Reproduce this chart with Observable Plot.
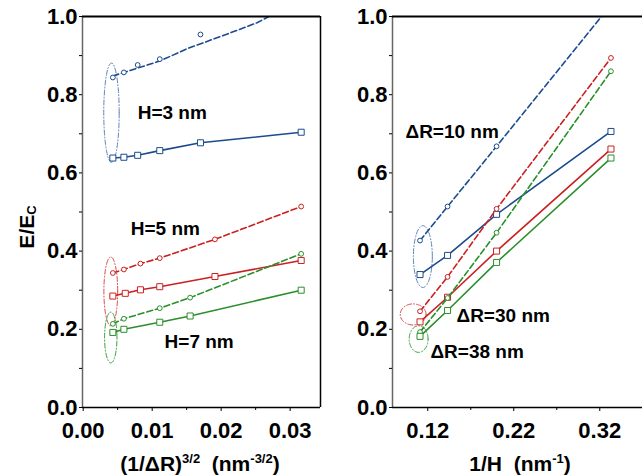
<!DOCTYPE html>
<html><head><meta charset="utf-8">
<script src="https://cdn.jsdelivr.net/npm/d3@7"></script>
<script src="https://cdn.jsdelivr.net/npm/@observablehq/plot@0.6"></script>
<style>
body{margin:0;background:#fff;font-family:"Liberation Sans",Arial,sans-serif;}
#wrap{position:relative;width:642px;height:475px;overflow:hidden;background:#fff;}
.panel{position:absolute;top:0;}
.panel svg{max-width:none !important;}
.lab{position:absolute;font-weight:bold;font-size:21px;color:#000;white-space:nowrap;line-height:1;
  font-family:"Liberation Sans Narrow","Arial Narrow","Liberation Sans",Arial,sans-serif;}
.lab sup{font-size:13px;vertical-align:0.6em;}
.lab sub{font-size:13px;vertical-align:-0.1em;}
</style></head><body><div id="wrap"></div>
<script>
// ---------- data ----------
const BLUE = "#1b4b8e", RED = "#cc2020", GREEN = "#2a8f2a";
const BLUE_L = "#5f86bd", RED_L = "#d94c4c", GREEN_L = "#3a9e3a";

// Left panel: x = (1/ΔR)^(3/2)
const h3DashX = [0.0043, 0.0059, 0.0079, 0.0111, 0.0170, 0.0316];
const h3DashY = [0.844, 0.857, 0.876, 0.891, 0.954, 1.03];
// dashed trend line drawn for H=3 (it passes below the 0.017 point)
const h3TrendX = [0.0043, 0.0111, 0.0151, 0.0204, 0.0252, 0.0280];
const h3TrendY = [0.848, 0.886, 0.918, 0.952, 0.984, 1.01];
const h3SolidX = [0.0043, 0.0059, 0.0079, 0.0111, 0.0170, 0.0316];
const h3SolidY = [0.638, 0.640, 0.645, 0.657, 0.677, 0.704];
const h5DashX = [0.0043, 0.0059, 0.0083, 0.0111, 0.0191, 0.0316];
const h5DashY = [0.344, 0.353, 0.368, 0.382, 0.430, 0.514];
const h5SolidX = [0.0043, 0.0061, 0.0083, 0.0111, 0.0191, 0.0316];
const h5SolidY = [0.285, 0.292, 0.301, 0.309, 0.335, 0.376];
const h7DashX = [0.0043, 0.0059, 0.0111, 0.0155, 0.0316];
const h7DashY = [0.214, 0.227, 0.254, 0.281, 0.393];
const h7SolidX = [0.0043, 0.0059, 0.0111, 0.0155, 0.0316];
const h7SolidY = [0.192, 0.200, 0.218, 0.234, 0.300];

// Right panel: x = 1/H
const invH = [0.111, 0.143, 0.2, 0.333];
const r10DashY = [0.427, 0.514, 0.668, 1.03];
const r10SolidY = [0.340, 0.389, 0.494, 0.706];
const r30DashY = [0.246, 0.334, 0.508, 0.894];
const r30SolidY = [0.219, 0.282, 0.400, 0.661];
const r38DashY = [0.193, 0.280, 0.447, 0.860];
const r38SolidY = [0.182, 0.248, 0.371, 0.638];

// ticks
const yTicks = [0, 0.2, 0.4, 0.6, 0.8, 1.0];
const yMinor = [0.1, 0.3, 0.5, 0.7, 0.9];
const leftXTicks = [0, 0.01, 0.02, 0.03];
const leftXMinor = [0.005, 0.015, 0.025];
const rightXTicks = [0.12, 0.22, 0.32];
const rightXMinor = [0.17, 0.27];

// annotations
const leftLabels = [
  {x: 0.0079, y: 0.754, text: "H=3 nm"},
  {x: 0.0069, y: 0.458, text: "H=5 nm"},
  {x: 0.0118, y: 0.169, text: "H=7 nm"}
];
const rightLabels = [
  {x: 0.0941, y: 0.706, text: "ΔR=10 nm"},
  {x: 0.1534, y: 0.233, text: "ΔR=30 nm"},
  {x: 0.1231, y: 0.141, text: "ΔR=38 nm"}
];
const leftEllipses = [
  {cx: 0.0041, cy: 0.754, rx: 0.00112, ry: 0.127, color: BLUE_L},
  {cx: 0.0040, cy: 0.297, rx: 0.00100, ry: 0.088, color: RED_L},
  {cx: 0.0040, cy: 0.179, rx: 0.00090, ry: 0.065, color: GREEN_L}
];
const rightEllipses = [
  {cx: 0.1143, cy: 0.386, rx: 0.0110, ry: 0.079, color: BLUE_L},
  {cx: 0.1030, cy: 0.238, rx: 0.0150, ry: 0.027, color: RED_L},
  {cx: 0.1094, cy: 0.175, rx: 0.0110, ry: 0.034, color: GREEN_L}
];

// ---------- build ----------
function pts(xs, ys){ return xs.map((x, i) => ({x, y: ys[i]})); }
const leftSeries = [
  {d: pts(h3DashX, h3DashY), line: pts(h3TrendX, h3TrendY), c: BLUE, dash: true},
  {d: pts(h3SolidX, h3SolidY), c: BLUE, dash: false},
  {d: pts(h5DashX, h5DashY), c: RED, dash: true},
  {d: pts(h5SolidX, h5SolidY), c: RED, dash: false},
  {d: pts(h7DashX, h7DashY), c: GREEN, dash: true},
  {d: pts(h7SolidX, h7SolidY), c: GREEN, dash: false}
];
const rightSeries = [
  {d: pts(invH, r10DashY), c: BLUE, dash: true},
  {d: pts(invH, r10SolidY), c: BLUE, dash: false},
  {d: pts(invH, r30DashY), c: RED, dash: true},
  {d: pts(invH, r30SolidY), c: RED, dash: false},
  {d: pts(invH, r38DashY), c: GREEN, dash: true},
  {d: pts(invH, r38SolidY), c: GREEN, dash: false}
];
const angles = d3.range(0, 361, 5);
function ellipseMarks(E){
  return E.map(e => Plot.line(angles.map(a => ({
      x: e.cx + e.rx * Math.cos(a * Math.PI / 180),
      y: e.cy + e.ry * Math.sin(a * Math.PI / 180)})),
    {x: "x", y: "y", stroke: e.color, strokeWidth: 1, strokeDasharray: "5,2,1,2"}));
}
function seriesMarks(S){
  return S.flatMap(s => [
    Plot.line(s.line || s.d, {x: "x", y: "y", stroke: s.c, strokeWidth: 1.6,
      strokeDasharray: s.dash ? "6,3" : null, clip: true}),
    Plot.dot(s.d, {x: "x", y: "y", stroke: s.c, fill: "white", strokeWidth: 1,
      symbol: s.dash ? "circle" : "square", r: s.dash ? 2.4 : 3.4, clip: true})
  ]);
}
const fmt1 = d3.format(".1f"), fmt2 = d3.format(".2f");
const NARROW = "'Liberation Sans Narrow', 'Arial Narrow', 'Liberation Sans', Arial, sans-serif";
const WIDE = "Liberation Sans, Arial, sans-serif";
const style = {background: "transparent", fontFamily: NARROW,
  fontSize: "22px", fontWeight: "bold", overflow: "visible", maxWidth: "none"};

function frameMarks(xmin, xmax, right){
  const m = [
    Plot.ruleX([xmin], {stroke: "#666", strokeWidth: 1.5}),
    Plot.ruleY([0], {stroke: "#000", strokeWidth: 1.5}),
    Plot.ruleY([1], {stroke: "#000", strokeWidth: 2})
  ];
  if (right) m.push(Plot.ruleX([xmax], {stroke: "#000", strokeWidth: 1.5}));
  return m;
}
const textOpts = {x: "x", y: "y", text: "text", textAnchor: "start", fontSize: 19,
  fontWeight: "bold", fontFamily: WIDE, fill: "#000"};

const LXD = [-0.0001, 0.0344];
const left = Plot.plot({
  width: 330, height: 475, marginLeft: 82, marginRight: 10, marginTop: 16, marginBottom: 68,
  style,
  x: {domain: LXD},
  y: {domain: [0, 1]},
  marks: [
    ...ellipseMarks(leftEllipses),
    ...seriesMarks(leftSeries),
    Plot.text(leftLabels, textOpts),
    ...frameMarks(LXD[0], LXD[1], true),
    Plot.axisX(leftXTicks, {tickFormat: fmt2, tickSize: 4, tickPadding: 11, label: null}),
    Plot.axisX(leftXMinor, {tickFormat: () => "", tickSize: 3, label: null}),
    Plot.axisY(yTicks, {tickFormat: fmt1, tickSize: 3, tickPadding: 2, label: null}),
    Plot.axisY(yMinor, {tickFormat: () => "", tickSize: 3, label: null})
  ]
});

const RXD = [0.0790, 0.3906];
const right = Plot.plot({
  width: 370, height: 475, marginLeft: 62, marginRight: 40, marginTop: 16, marginBottom: 68,
  style,
  x: {domain: RXD},
  y: {domain: [0, 1]},
  marks: [
    ...ellipseMarks(rightEllipses),
    ...seriesMarks(rightSeries),
    Plot.text(rightLabels, textOpts),
    ...frameMarks(RXD[0], RXD[1], true),
    Plot.axisX(rightXTicks, {tickFormat: fmt2, tickSize: 4, tickPadding: 11, label: null}),
    Plot.axisX(rightXMinor, {tickFormat: () => "", tickSize: 3, label: null}),
    Plot.axisY(yTicks, {tickFormat: fmt1, tickSize: 3, tickPadding: 2, label: null}),
    Plot.axisY(yMinor, {tickFormat: () => "", tickSize: 3, label: null})
  ]
});

const wrap = document.getElementById("wrap");
const pl = document.createElement("div"); pl.className = "panel";
pl.style.left = "0px"; pl.style.width = "330px"; pl.appendChild(left);
const pr = document.createElement("div"); pr.className = "panel";
pr.style.left = "330px"; pr.style.width = "370px"; pr.appendChild(right);
wrap.appendChild(pl); wrap.appendChild(pr);

function addLabel(html, x, y, rot){
  const d = document.createElement("div");
  d.className = "lab"; d.innerHTML = html;
  d.style.left = x + "px"; d.style.top = y + "px";
  d.style.transform = "translate(-50%,-50%)" + (rot ? " rotate(-90deg)" : "");
  wrap.appendChild(d);
}
addLabel("E/E<sub>C</sub>", 27, 227, true);
addLabel("(1/ΔR)<sup>3/2</sup>&nbsp;&nbsp;(nm<sup>-3/2</sup>)", 200, 463, false);
addLabel("1/H&nbsp;&nbsp;(nm<sup>-1</sup>)", 520, 463, false);
</script></body></html>
